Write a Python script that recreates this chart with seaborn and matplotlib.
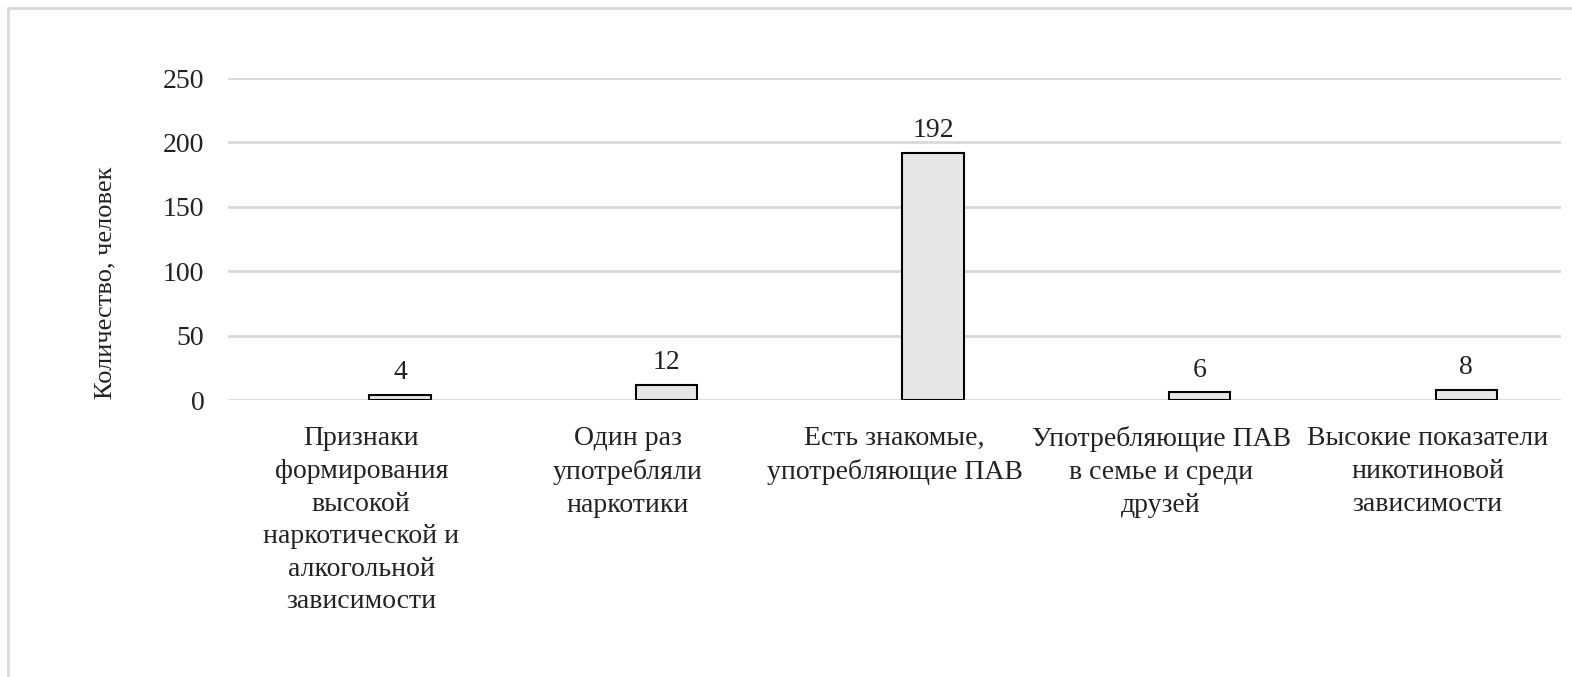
import matplotlib
matplotlib.use("Agg")
import matplotlib.pyplot as plt
import seaborn as sns
import pandas as pd
from matplotlib.lines import Line2D

categories = [
    "Признаки\nформирования\nвысокой\nнаркотической и\nалкогольной\nзависимости",
    "Один раз\nупотребляли\nнаркотики",
    "Есть знакомые,\nупотребляющие ПАВ",
    "Употребляющие ПАВ\nв семье и среди\nдрузей",
    "Высокие показатели\nникотиновой\nзависимости",
]
values = [4, 12, 192, 6, 8]
y_ticks = [0, 50, 100, 150, 200, 250]
y_label = "Количество, человек"

sns.set_theme(style="white")
plt.rcParams["font.family"] = ["Liberation Serif", "DejaVu Serif"]

W, H, DPI = 1572, 677, 100
fig = plt.figure(figsize=(W / DPI, H / DPI), dpi=DPI)
ax = fig.add_axes([228 / W, 1 - 400 / H, (1561 - 228) / W, (400 - 78) / H])

df = pd.DataFrame({"cat": categories, "val": values})
sns.barplot(data=df, x="cat", y="val", ax=ax, color="#e6e6e6",
            edgecolor="black", linewidth=1.5, width=0.23, saturation=1)

offset = 0.145
for p in ax.patches:
    p.set_x(p.get_x() + offset)
    p.set_zorder(3)

ax.set_ylim(0, 250)
ax.set_xlim(-0.5, len(categories) - 0.5)
ax.set_yticks(y_ticks)
ax.yaxis.grid(True, color="#d9d9d9", linewidth=2)
ax.set_axisbelow(True)
for s in ax.spines.values():
    s.set_visible(False)

ax.tick_params(axis="y", length=0, pad=17, labelsize=20, labelcolor="#222222")
ax.tick_params(axis="x", length=0, pad=19, labelsize=20, labelcolor="#222222")
for lbl in ax.get_xticklabels():
    lbl.set_linespacing(1.40)
    lbl.set_ha("center")

ax.set_xlabel("")
ax.set_ylabel(y_label, fontsize=19, color="#222222")
ax.yaxis.set_label_coords(-0.0835, 0.363)

for p, v in zip(ax.patches, values):
    ax.annotate(str(v), (p.get_x() + p.get_width() / 2, v),
                xytext=(0, 7), textcoords="offset points",
                ha="center", va="bottom", fontsize=20, color="#222222")

# chart frame (top and left edges visible)
fig.add_artist(Line2D([8 / W, 1], [1 - 8 / H, 1 - 8 / H], transform=fig.transFigure,
                      color="#d9d9d9", linewidth=2))
fig.add_artist(Line2D([8 / W, 8 / W], [0, 1 - 8 / H], transform=fig.transFigure,
                      color="#d9d9d9", linewidth=2))

fig.savefig("out.png", dpi=DPI, facecolor="white")
